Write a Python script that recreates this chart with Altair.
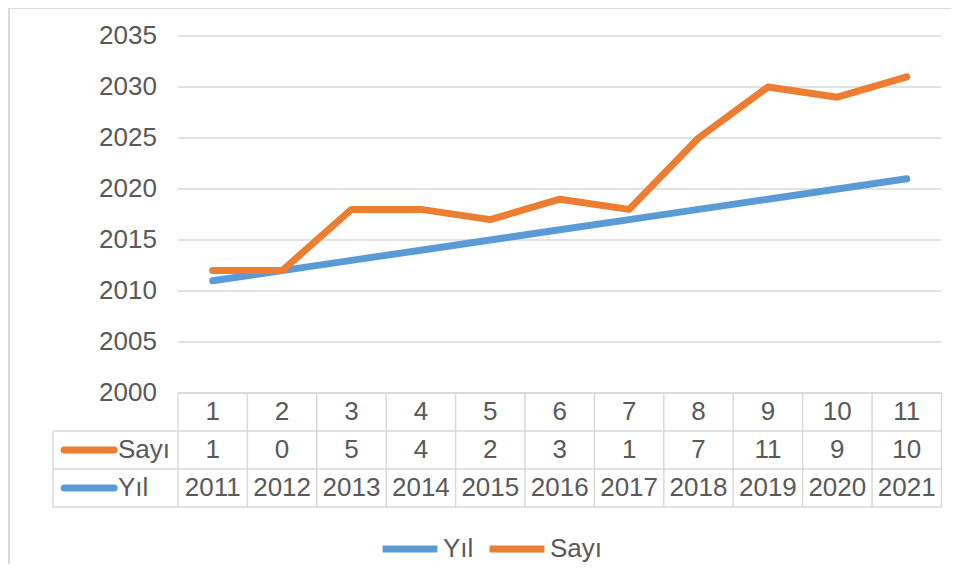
import altair as alt
import pandas as pd

# ---------------- data ----------------
categories = [1, 2, 3, 4, 5, 6, 7, 8, 9, 10, 11]
yil = [2011, 2012, 2013, 2014, 2015, 2016, 2017, 2018, 2019, 2020, 2021]
sayi = [1, 0, 5, 4, 2, 3, 1, 7, 11, 9, 10]
y_ticks = [2000, 2005, 2010, 2015, 2020, 2025, 2030, 2035]
series_names = ["Yıl", "Sayı"]

# ---------------- style ----------------
BLUE = "#5B9BD5"
ORANGE = "#ED7D31"
TEXT = "#595959"
GRID = "#D9D9D9"
FONT = "Liberation Sans"
FS = 26
LW = 7

W, H = 942, 556
X_DOMAIN = [-1.935, 11.638]
Y_DOMAIN = [1983.235, 2037.745]
ROW_H = 3.725                      # table row height in y units
LEFT_COL_X = -1.301                # left edge of the table's label column
TICK_LABEL_X = 0.197
KEY_X0, KEY_X1 = -1.14, -0.42
ROW_LABEL_X = -0.365

xs = alt.Scale(domain=X_DOMAIN, nice=False, zero=False)
ys = alt.Scale(domain=Y_DOMAIN, nice=False, zero=False)
color_scale = alt.Scale(domain=series_names, range=[BLUE, ORANGE])

# Excel stacked line: Sayı is drawn on top of Yıl
blue_df = pd.DataFrame({"cat": categories, "series": "Yıl", "value": yil})
orange_df = pd.DataFrame({"cat": categories, "series": "Sayı",
                          "value": [a + b for a, b in zip(yil, sayi)]})

lo_cat, hi_cat = categories[0] - 0.5, categories[-1] + 0.5
row_tops = [2000 - i * ROW_H for i in range(3)]
table_bottom = 2000 - 3 * ROW_H

grid_df = pd.DataFrame({"y": y_ticks, "x": lo_cat, "x2": hi_cat})
tick_df = pd.DataFrame({"y": y_ticks, "x": TICK_LABEL_X, "label": [str(t) for t in y_ticks]})

hlines = [{"y": 2000, "x": lo_cat, "x2": hi_cat}]
for i in range(1, 4):
    hlines.append({"y": 2000 - i * ROW_H, "x": LEFT_COL_X, "x2": hi_cat})
hline_df = pd.DataFrame(hlines)
vlines = [{"x": c - 0.5, "y": 2000, "y2": table_bottom} for c in categories]
vlines.append({"x": hi_cat, "y": 2000, "y2": table_bottom})
vlines.append({"x": LEFT_COL_X, "y": row_tops[1], "y2": table_bottom})
vline_df = pd.DataFrame(vlines)

cells = []
for c, s, yv in zip(categories, sayi, yil):
    cells.append({"x": c, "y": row_tops[0] - ROW_H / 2, "t": str(c)})
    cells.append({"x": c, "y": row_tops[1] - ROW_H / 2, "t": str(s)})
    cells.append({"x": c, "y": row_tops[2] - ROW_H / 2, "t": str(yv)})
cell_df = pd.DataFrame(cells)

key_df = pd.DataFrame({
    "series": ["Sayı", "Yıl"],
    "col": [ORANGE, BLUE],
    "y": [row_tops[1] - ROW_H / 2, row_tops[2] - ROW_H / 2],
    "x": [KEY_X0, KEY_X0], "x2": [KEY_X1, KEY_X1],
    "lx": [ROW_LABEL_X, ROW_LABEL_X],
})

frame_df = pd.DataFrame({"x": [X_DOMAIN[0], X_DOMAIN[0]], "x2": [X_DOMAIN[1], X_DOMAIN[0]],
                         "y": [Y_DOMAIN[1], Y_DOMAIN[1]], "y2": [Y_DOMAIN[1], Y_DOMAIN[0]]})

legend = alt.Legend(
    orient="none", legendX=370, legendY=510, direction="horizontal", title=None,
    symbolType="stroke", symbolSize=3000, symbolStrokeWidth=LW,
    labelFontSize=FS, labelColor=TEXT, labelFont=FONT, columnPadding=1,
    labelOffset=2,
)

X = lambda f: alt.X(f, scale=xs, axis=None)
Y = lambda f: alt.Y(f, scale=ys, axis=None)

frame = alt.Chart(frame_df).mark_rule(color=GRID, strokeWidth=2).encode(
    x=X("x:Q"), x2="x2", y=Y("y:Q"), y2="y2")
grid = alt.Chart(grid_df).mark_rule(color=GRID, strokeWidth=1.5).encode(
    x=X("x:Q"), x2="x2", y=Y("y:Q"))
ticks = alt.Chart(tick_df).mark_text(align="right", baseline="middle", fontSize=FS,
                                     color=TEXT, font=FONT).encode(
    x=X("x:Q"), y=Y("y:Q"), text="label:N")
hl = alt.Chart(hline_df).mark_rule(color=GRID, strokeWidth=1.5).encode(
    x=X("x:Q"), x2="x2", y=Y("y:Q"))
vl = alt.Chart(vline_df).mark_rule(color=GRID, strokeWidth=1.5).encode(
    x=X("x:Q"), y=Y("y:Q"), y2="y2")

blue_line = alt.Chart(blue_df).mark_line(
    strokeWidth=LW, strokeCap="round", strokeJoin="round").encode(
    x=X("cat:Q"), y=Y("value:Q"),
    color=alt.Color("series:N", scale=color_scale, legend=legend))
orange_line = alt.Chart(orange_df).mark_line(
    strokeWidth=LW, strokeCap="round", strokeJoin="round").encode(
    x=X("cat:Q"), y=Y("value:Q"),
    color=alt.Color("series:N", scale=color_scale, legend=legend))

cell_text = alt.Chart(cell_df).mark_text(baseline="middle", fontSize=FS, color=TEXT,
                                         font=FONT).encode(
    x=X("x:Q"), y=Y("y:Q"), text="t:N")

keys = alt.Chart(key_df).mark_rule(strokeWidth=LW, strokeCap="round").encode(
    x=X("x:Q"), x2="x2", y=Y("y:Q"), stroke=alt.Stroke("col:N", scale=None))
key_labels = alt.Chart(key_df).mark_text(align="left", baseline="middle", fontSize=FS,
                                         color=TEXT, font=FONT).encode(
    x=X("lx:Q"), y=Y("y:Q"), text="series:N")

chart = alt.layer(
    frame, grid, hl, vl, ticks, cell_text, keys, key_labels,
    blue_line, orange_line,
).properties(
    width=W, height=H,
    padding={"left": 1, "top": 0, "right": 0, "bottom": 0},
    autosize=alt.AutoSizeParams(type="none"),
).configure_view(strokeWidth=0).configure(font=FONT)

chart.save("out.html", embed_options={"renderer": "svg", "actions": False})
